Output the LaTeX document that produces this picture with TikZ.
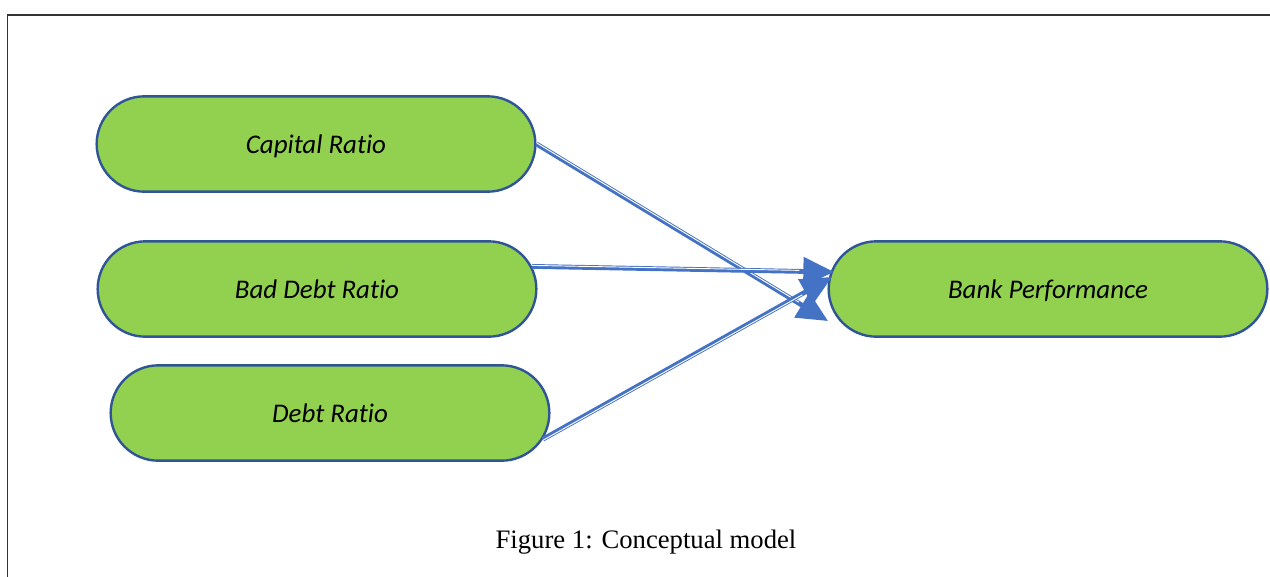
\documentclass[tikz,border=0pt]{standalone}
\usepackage{fontspec}
\setmainfont{Liberation Serif}
\newfontfamily\calib[Ligatures=NoCommon]{Carlito}
\usetikzlibrary{shapes.misc,arrows.meta}
\definecolor{fillg}{HTML}{92D050}
\definecolor{edgeb}{HTML}{2F5597}
\definecolor{arrb}{HTML}{4472C4}
\definecolor{framec}{HTML}{333333}
\begin{document}
\begin{tikzpicture}[x=0.75pt,y=-0.75pt,
  term/.style={rounded rectangle, rounded rectangle arc length=180, draw=edgeb, line width=1.8pt, fill=fillg,
    minimum width=329pt, minimum height=71.5pt, inner sep=0pt, text depth=0pt,
    font=\calib\itshape\fontsize{20.2}{24}\selectfont},
  conn/.style={draw=arrb, line width=3.6pt, -{Triangle[length=23pt,width=21pt]},
    postaction={draw=white, line width=0.7pt, -, shorten >=26pt, transform canvas={shift={#1}}}},
  framel/.style={draw=framec, line width=1.4pt}]
\useasboundingbox (0,0) rectangle (1270,576);
\draw[framel] (7.5,580) -- (7.5,15) -- (1275,15);
\node[term] (cap) at (316,144) {Capital Ratio};
\node[term] (bad) at (317,289) {Bad Debt Ratio};
\node[term] (debt) at (330,413) {Debt Ratio};
\node[term] (bank) at (1048,289) {Bank Performance};
\coordinate (t1) at (828,321);
\coordinate (t2) at (834,272);
\coordinate (t3) at (832,277);
\draw[conn={(0.39pt,0.64pt)}] (cap.east) -- (t1);
\draw[conn={(0pt,0.75pt)}] (bad.6) -- (t2);
\draw[conn={(0.38pt,-0.65pt)}] (debt.-7) -- (t3);
\node[font=\fontsize{20}{24}\selectfont, inner sep=0pt] (capt) at (646,542) {Figure 1: Conceptual model};
\end{tikzpicture}
\end{document}
